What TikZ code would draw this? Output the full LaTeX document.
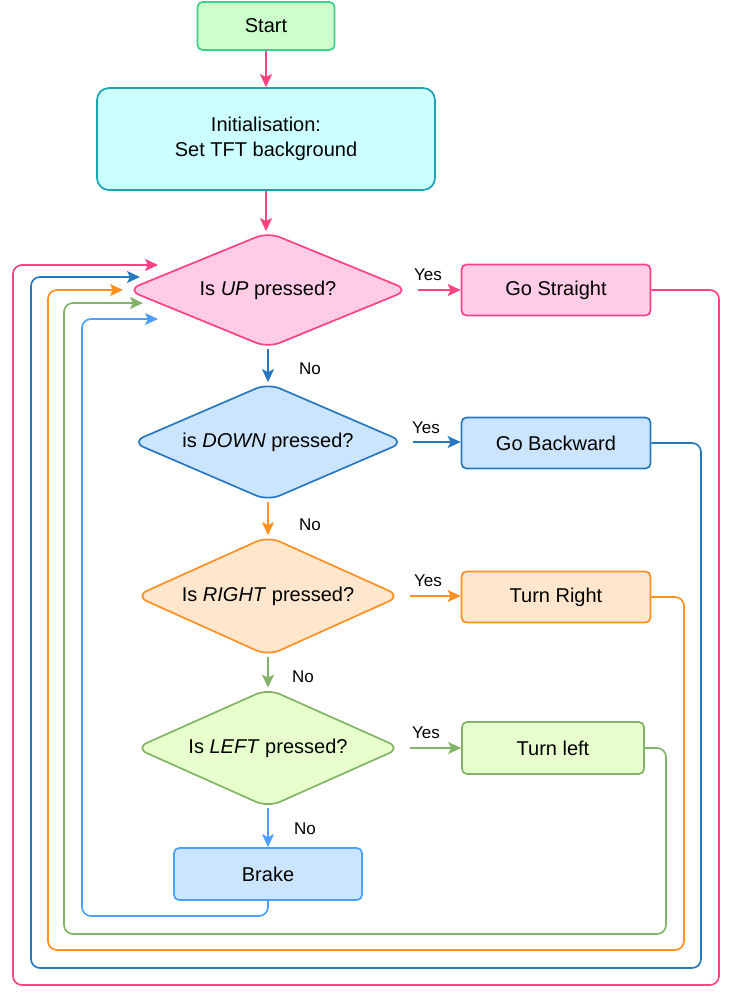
\documentclass[tikz,border=0pt]{standalone}
\usepackage{fontspec}
\setmainfont{Liberation Sans}
\usetikzlibrary{shapes.geometric,arrows.meta}
\definecolor{pinkline}{HTML}{FF4081}
\definecolor{pinkfill}{HTML}{FFCCE6}
\definecolor{greenline}{HTML}{3FD08C}
\definecolor{greenfill}{HTML}{CCFFCC}
\definecolor{tealline}{HTML}{1AA3B5}
\definecolor{tealfill}{HTML}{CCFFFF}
\definecolor{blueline}{HTML}{2878C0}
\definecolor{bluefill}{HTML}{CCE5FF}
\definecolor{orangeline}{HTML}{FF9020}
\definecolor{orangefill}{HTML}{FFE6CC}
\definecolor{limeline}{HTML}{82B366}
\definecolor{limefill}{HTML}{E6FFCC}
\definecolor{skyline}{HTML}{4DA0FF}
\tikzstyle{box}=[draw, rounded corners=5pt, line width=1.7pt, minimum width=189pt, minimum height=51pt, font=\fontsize{20}{25}\selectfont]
\tikzstyle{decision}=[diamond, draw, aspect=2.4, inner sep=0pt, rounded corners=13pt, line width=1.7pt, font=\fontsize{20}{25}\selectfont]
\tikzstyle{lbl}=[font=\fontsize{17}{20}\selectfont, inner sep=0pt]
\tikzstyle{flow}=[line width=1.7pt, -{Stealth[length=13pt,width=12pt,inset=3pt]}]
\tikzstyle{loopback}=[flow, rounded corners=9pt]

\begin{document}
\begin{tikzpicture}[x=1pt,y=-1pt]
  \useasboundingbox (0,0) rectangle (733,1000);
  % Nodes
  \node[box, fill=greenfill, draw=greenline, minimum width=137pt, minimum height=48pt] (start) at (266,26) {Start};
  \node[box, fill=tealfill, draw=tealline, rounded corners=12pt, minimum width=338pt, minimum height=102pt, align=center] (init) at (266,139) {Initialisation:\\Set TFT background};
  \node[decision, fill=pinkfill, draw=pinkline, minimum width=282pt, minimum height=116pt] (up) at (268,290) {Is \textit{UP} pressed?};
  \node[decision, fill=bluefill, draw=blueline, minimum width=273pt, minimum height=118pt] (down) at (268,442) {is \textit{DOWN} pressed?};
  \node[decision, fill=orangefill, draw=orangeline, minimum width=266pt, minimum height=120pt] (right) at (268,596) {Is \textit{RIGHT} pressed?};
  \node[decision, fill=limefill, draw=limeline, minimum width=266pt, minimum height=119pt] (left) at (268,748) {Is \textit{LEFT} pressed?};
  \node[box, fill=pinkfill, draw=pinkline] (straight) at (556,290) {Go Straight};
  \node[box, fill=bluefill, draw=blueline] (back) at (556,443) {Go Backward};
  \node[box, fill=orangefill, draw=orangeline] (tright) at (556,597) {Turn Right};
  \node[box, fill=limefill, draw=limeline, minimum width=182pt, minimum height=52pt] (tleft) at (553,748) {Turn left};
  \node[box, fill=bluefill, draw=skyline, minimum width=188pt, minimum height=52pt] (brake) at (268,874) {Brake};
  % Labels
  \node[lbl] (yes1) at (428,275) {Yes};
  \node[lbl] (yes2) at (426,428) {Yes};
  \node[lbl] (yes3) at (428,581) {Yes};
  \node[lbl] (yes4) at (426,733) {Yes};
  \node[lbl] (no1) at (310,369) {No};
  \node[lbl] (no2) at (310,525) {No};
  \node[lbl] (no3) at (303,677) {No};
  \node[lbl] (no4) at (305,829) {No};
  % Entry points of the loops
  \coordinate (inS) at (158,265);
  \coordinate (inB) at (140,277);
  \coordinate (inR) at (123,290);
  \coordinate (inL) at (143,303);
  \coordinate (inK) at (158,319);
  % Arrows
  \draw[flow, pinkline] (start.south) -- (init.north);
  \draw[flow, pinkline] (init.south) -- (init.south |- up.north);
  \draw[flow, blueline] (up.south) -- (down.north);
  \draw[flow, orangeline] (down.south) -- (right.north);
  \draw[flow, limeline] (right.south) -- (left.north);
  \draw[flow, skyline] (left.south) -- (brake.north);
  \draw[flow, pinkline, shorten <=8pt] (up.east) -- (straight.west);
  \draw[flow, blueline, shorten <=8pt] (down.east) -- (down.east -| back.west);
  \draw[flow, orangeline, shorten <=8pt] (right.east) -- (right.east -| tright.west);
  \draw[flow, limeline, shorten <=8pt] (left.east) -- (tleft.west);
  % Loops back to the first test
  \draw[loopback, pinkline] (straight.east) -- (719,290) -- (719,985) -- (13,985) -- (13,265) -- (inS);
  \draw[loopback, blueline] (back.east) -- (701,443) -- (701,968) -- (31,968) -- (31,277) -- (inB);
  \draw[loopback, orangeline] (tright.east) -- (684,597) -- (684,950) -- (48,950) -- (48,290) -- (inR);
  \draw[loopback, limeline] (tleft.east) -- (666,748) -- (666,934) -- (64,934) -- (64,303) -- (inL);
  \draw[loopback, skyline] (brake.south) -- (268,916) -- (82,916) -- (82,319) -- (inK);
\end{tikzpicture}
\end{document}
